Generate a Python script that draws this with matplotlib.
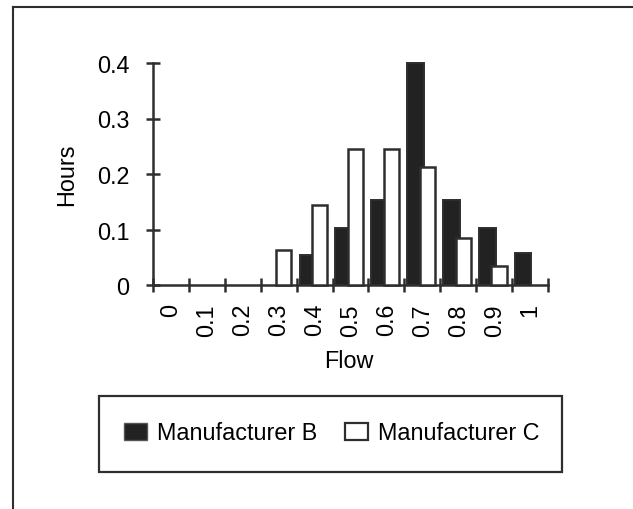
import matplotlib
import matplotlib.pyplot as plt
import numpy as np
from matplotlib.lines import Line2D
from matplotlib.patches import Patch, Rectangle

matplotlib.use("Agg")

plt.rcParams["font.family"] = ["Liberation Sans", "DejaVu Sans"]

flow_labels = ["0", "0.1", "0.2", "0.3", "0.4", "0.5", "0.6", "0.7", "0.8", "0.9", "1"]
hours_b = [0, 0, 0, 0, 0.054, 0.102, 0.154, 0.40, 0.154, 0.103, 0.057]
hours_c = [0, 0, 0, 0.063, 0.145, 0.245, 0.245, 0.213, 0.085, 0.035, 0]
y_ticks = [0, 0.1, 0.2, 0.3, 0.4]
y_tick_labels = ["0", "0.1", "0.2", "0.3", "0.4"]

ink = "#2e2e2e"
dark_fill = "#222222"
fs = 16.8

fig = plt.figure(figsize=(6.33, 5.10), dpi=100)
ax = fig.add_axes([153 / 633, 1 - 286 / 510, 395 / 633, 222 / 510])

x = np.arange(len(flow_labels))
width = 0.46
b = np.array(hours_b)
c = np.array(hours_c)
mb = b > 0
mc = c > 0
ax.bar(x[mb] - 0.19, b[mb], width, color=dark_fill, edgecolor=ink, linewidth=1.4,
       zorder=2, clip_on=False)
ax.bar(x[mc] + 0.14, c[mc], width * 0.93, color="white", edgecolor=ink, linewidth=1.8,
       zorder=3, clip_on=False)

ax.set_xlim(-0.5, len(flow_labels) - 0.5)
ax.set_ylim(0, 0.4)

ax.set_xticks(x)
ax.set_xticklabels(flow_labels, rotation=90, fontsize=fs, va="top", ha="center")
ax.set_xticks(np.arange(len(flow_labels) + 1) - 0.5, minor=True)
ax.tick_params(axis="x", which="major", length=0, pad=13)
ax.tick_params(axis="x", which="minor", length=10, width=1.8, direction="inout", color=ink)

ax.set_yticks(y_ticks)
ax.set_yticklabels(y_tick_labels, fontsize=fs)
ax.tick_params(axis="y", length=10, width=1.8, direction="inout", color=ink, pad=12)

for side in ["top", "right"]:
    ax.spines[side].set_visible(False)
for side in ["left", "bottom"]:
    ax.spines[side].set_color(ink)
    ax.spines[side].set_linewidth(1.8)
ax.set_facecolor("none")

fig.text(67 / 633, 1 - 175 / 510, "Hours", rotation=90, fontsize=fs,
         ha="center", va="center")
fig.text(349 / 633, 1 - 362 / 510, "Flow", fontsize=fs, ha="center", va="center")

# legend frame drawn on its own, larger than the entries
fig.patches.append(Rectangle((99 / 633, 1 - 473 / 510), 463 / 633, 76 / 510,
                             transform=fig.transFigure, fill=False,
                             edgecolor=ink, linewidth=1.6))
handles = [Patch(facecolor=dark_fill, edgecolor="#555555", label="Manufacturer B"),
           Patch(facecolor="white", edgecolor=ink, linewidth=1.6, label="Manufacturer C")]
fig.legend(handles=handles, loc="center", bbox_to_anchor=(332 / 633, 1 - 434 / 510),
           ncol=2, frameon=False, fontsize=fs, handlelength=0.95, handleheight=0.75,
           handletextpad=0.45, columnspacing=1.2)

# scanned page edges: top and left
fig.add_artist(Line2D([13 / 633, 1], [1 - 8 / 510, 1 - 8 / 510], color=ink, lw=1.5,
                      transform=fig.transFigure))
fig.add_artist(Line2D([13 / 633, 13 / 633], [0, 1 - 8 / 510], color=ink, lw=1.5,
                      transform=fig.transFigure))

fig.savefig("out.png", dpi=100)
plt.close(fig)
